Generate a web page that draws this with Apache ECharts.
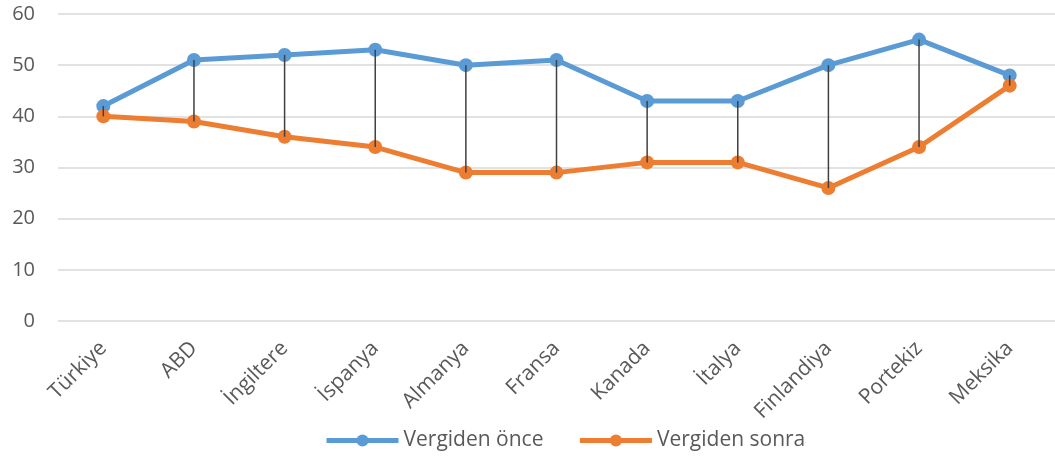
<!DOCTYPE html>
<html>
<head>
<meta charset="utf-8">
<script src="https://cdn.jsdelivr.net/npm/echarts@6/dist/echarts.min.js"></script>
<style>
  html, body { margin: 0; padding: 0; background: #fff; }
  #main { width: 1055px; height: 459px; }
</style>
</head>
<body>
<div id="main"></div>
<script>
// chart data
var countries = ["Türkiye", "ABD", "İngiltere", "İspanya", "Almanya", "Fransa", "Kanada", "İtalya", "Finlandiya", "Portekiz", "Meksika"];
var beforeTax = [42, 51, 52, 53, 50, 51, 43, 43, 50, 55, 48];
var afterTax = [40, 39, 36, 34, 29, 29, 31, 31, 26, 34, 46];

var textColor = "#595959";
var font = "'Open Sans', 'Noto Sans', sans-serif";

var myChart = echarts.init(document.getElementById("main"));

var option = {
  animation: false,
  grid: { left: 58, top: 14, width: 1000, bottom: 138 },
  legend: {
    bottom: 3,
    left: 319,
    itemWidth: 72,
    itemHeight: 15,
    itemGap: 34,
    lineStyle: { width: 5 },
    textStyle: { color: textColor, fontSize: 21, fontFamily: font },
    data: ["Vergiden önce", "Vergiden sonra"]
  },
  xAxis: {
    type: "category",
    data: countries,
    axisLine: { show: false },
    axisTick: { show: false },
    axisLabel: {
      rotate: 45,
      interval: 0,
      margin: 24,
      color: textColor,
      fontSize: 21,
      fontFamily: font
    }
  },
  yAxis: {
    type: "value",
    min: 0,
    max: 60,
    interval: 10,
    axisLabel: { color: textColor, fontSize: 20, fontFamily: font, margin: 23 },
    splitLine: { lineStyle: { color: "#d9d9d9", width: 1.5 } }
  },
  series: [
    {
      name: "Vergiden önce",
      type: "line",
      data: beforeTax,
      color: "#5b9bd5",
      symbol: "circle",
      symbolSize: 14,
      lineStyle: { width: 5 },
      z: 3
    },
    {
      name: "Vergiden sonra",
      type: "line",
      data: afterTax,
      color: "#ed7d31",
      symbol: "circle",
      symbolSize: 14,
      lineStyle: { width: 5 },
      z: 3
    },
    {
      // high-low lines
      type: "custom",
      z: 5,
      silent: true,
      data: countries.map(function (c, i) { return [i, beforeTax[i], afterTax[i]]; }),
      encode: { x: 0, y: [1, 2] },
      renderItem: function (params, api) {
        var p1 = api.coord([api.value(0), api.value(1)]);
        var p2 = api.coord([api.value(0), api.value(2)]);
        return {
          type: "line",
          shape: { x1: p1[0], y1: p1[1], x2: p2[0], y2: p2[1] },
          style: { stroke: "#404040", lineWidth: 1.5 }
        };
      }
    }
  ]
};

myChart.setOption(option);
</script>
</body>
</html>
